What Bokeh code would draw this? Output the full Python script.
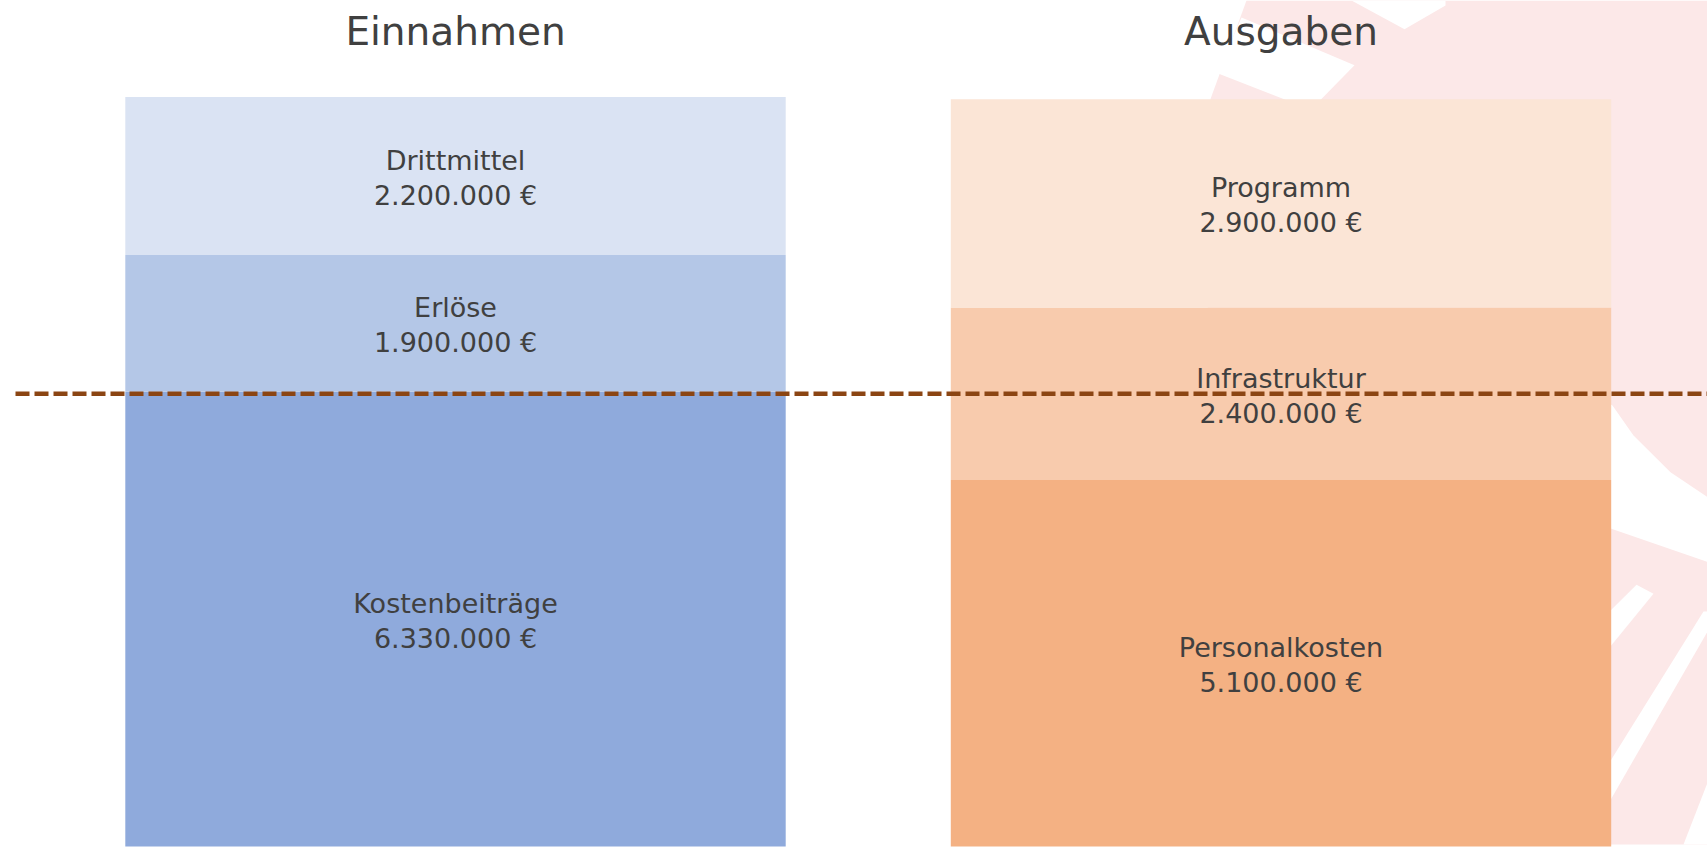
from bokeh.plotting import figure
from bokeh.models import Range1d, ColumnDataSource
from bokeh.embed import file_html
from bokeh.resources import INLINE
from bokeh.core.properties import value

# ---------------- data ----------------
groups = ["Einnahmen", "Ausgaben"]
einnahmen_labels = ["Kostenbeiträge", "Erlöse", "Drittmittel"]
einnahmen_values = [6330000, 1900000, 2200000]
ausgaben_labels = ["Personalkosten", "Infrastruktur", "Programm"]
ausgaben_values = [5100000, 2400000, 2900000]
threshold = 6300000

einnahmen_colors = ["#8FAADC", "#B4C7E7", "#DAE3F3"]
ausgaben_colors = ["#F4B183", "#F8CBAD", "#FBE5D6"]
TEXT = "#404040"
FONT = "DejaVu Sans"

# ---------------- layout constants ----------------
W, H = 1707, 848
X_CENTER0 = 455.0      # pixel centre of first bar
X_STEP = 825.5         # pixels per category step
BASE_PX = 850.0        # pixel row of value 0
PX_PER_EUR = 72.2e-6

x_start = -X_CENTER0 / X_STEP
x_end = (W - X_CENTER0) / X_STEP
y_start = -(BASE_PX - H) / PX_PER_EUR
y_end = BASE_PX / PX_PER_EUR


def px(xp, yp):
    return (xp - X_CENTER0) / X_STEP, (BASE_PX - yp) / PX_PER_EUR


def fmt(v):
    return f"{v:,.0f}".replace(",", ".") + " €"


p = figure(width=W, height=H, x_range=Range1d(x_start, x_end), y_range=Range1d(y_start, y_end),
           toolbar_location=None, output_backend="svg", x_axis_type=None, y_axis_type=None,
           min_border=0, outline_line_color=None, background_fill_color="white",
           border_fill_color="white")
p.grid.visible = False

# ---------------- background watermark (decoration) ----------------
pink_shapes = [
    [(1246, 0), (1707, 0), (1707, 848), (1200, 848), (1210, 99)],
]
white_shapes = [
    [(1351, 0), (1404, 29), (1445, 5), (1445, 0)],
    [(1241, 17), (1354, 65), (1316, 104), (1296, 104), (1217, 73)],
    [(1600, 400), (1612, 407), (1633, 437), (1670, 474), (1707, 499), (1707, 564), (1600, 527)],
    [(1605, 618), (1636, 587), (1653, 596), (1605, 655)],
    [(1703, 614), (1707, 614), (1707, 634), (1605, 812), (1605, 772)],
    [(1683, 848), (1707, 786), (1707, 848)],
]


def to_xy(shapes):
    xs, ys = [], []
    for s in shapes:
        pts = [px(a, b) for a, b in s]
        xs.append([q[0] for q in pts])
        ys.append([q[1] for q in pts])
    return xs, ys


xs, ys = to_xy(pink_shapes)
p.patches(xs=xs, ys=ys, fill_color="#FCE8E8", line_color=None)
xs, ys = to_xy(white_shapes)
p.patches(xs=xs, ys=ys, fill_color="white", line_color=None)

# ---------------- stacked bars ----------------
rows = dict(x=[], bottom=[], top=[], color=[], mid=[], name=[], val=[])
for gi, (labels, vals, cols) in enumerate([(einnahmen_labels, einnahmen_values, einnahmen_colors),
                                          (ausgaben_labels, ausgaben_values, ausgaben_colors)]):
    b = 0
    for lab, v, c in zip(labels, vals, cols):
        rows["x"].append(gi)
        rows["bottom"].append(b)
        rows["top"].append(b + v)
        rows["color"].append(c)
        rows["mid"].append(b + v / 2)
        rows["name"].append(lab)
        rows["val"].append(fmt(v))
        b += v
src = ColumnDataSource(rows)

p.vbar(x="x", bottom="bottom", top="top", width=0.8, fill_color="color", line_color=None, source=src)

p.text(x="x", y="mid", text="name", source=src, text_align="center", text_baseline="middle",
       y_offset=-15.5, text_font_size="27px", text_color=TEXT, text_font=value(FONT))
p.text(x="x", y="mid", text="val", source=src, text_align="center", text_baseline="middle",
       y_offset=19.5, text_font_size="27px", text_color=TEXT, text_font=value(FONT))

# titles
title_y = px(0, 31)[1]
p.text(x=[0, 1], y=[title_y, title_y], text=groups, text_align="center", text_baseline="middle",
       text_font_size="39px", text_color=TEXT, text_font=value(FONT))

# threshold line
line_x0 = px(15, 0)[0]
p.segment(x0=[line_x0], y0=[threshold], x1=[x_end], y1=[threshold], line_color="#8B4513",
          line_width=4.5, line_dash="14 5")

open("out.html", "w").write(file_html(p, INLINE))
